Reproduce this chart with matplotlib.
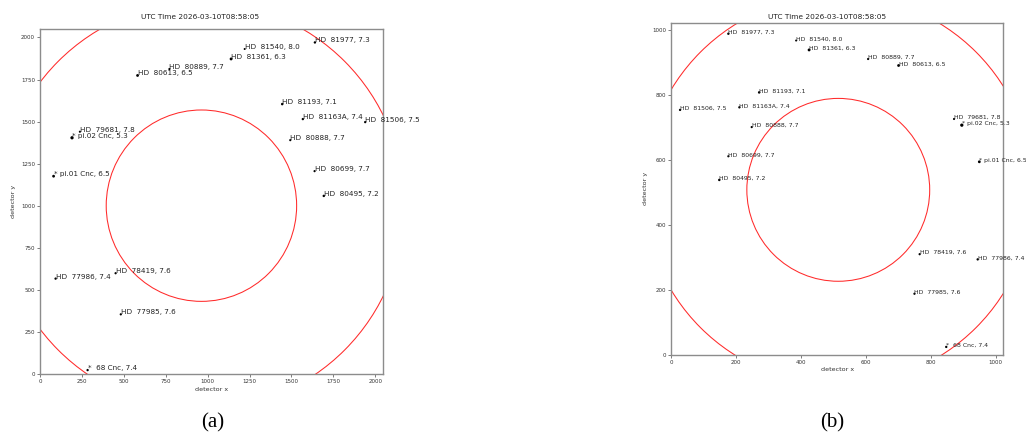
import matplotlib
matplotlib.use("Agg")
import matplotlib.pyplot as plt
from matplotlib.patches import Circle

# star labels and magnitudes (same stars in both frames)
names = ["HD  81977", "HD  81540", "HD  81361", "HD  80889", "HD  80613",
         "HD  81193", "HD  81163A", "HD  81506", "HD  79681", "* pi.02 Cnc",
         "HD  80888", "HD  80699", "* pi.01 Cnc", "HD  80495", "HD  77986",
         "HD  78419", "HD  77985", "*  68 Cnc"]
mags = [7.3, 8.0, 6.3, 7.7, 6.5, 7.1, 7.4, 7.5, 7.8, 5.3,
        7.7, 7.7, 6.5, 7.2, 7.4, 7.6, 7.6, 7.4]

# (a) 2048 x 2048 detector
xa = [1640, 1221, 1140, 772, 582, 1445, 1568, 1940, 238, 191,
      1493, 1638, 81, 1693, 93, 451, 482, 284]
ya = [1970, 1931, 1872, 1812, 1774, 1604, 1515, 1497, 1440, 1404,
      1390, 1206, 1176, 1059, 568, 600, 356, 25]
size_a = 2048
center_a = (963, 1001)
radii_a = [568, 1210]

# (b) 1024 x 1024 detector
xb = [176, 385, 425, 607, 701, 271, 210, 27, 872, 896,
      248, 176, 950, 148, 945, 766, 750, 848]
yb = [990, 969, 940, 912, 892, 809, 763, 755, 727, 708,
      702, 612, 595, 539, 294, 310, 188, 24]
size_b = 1024
center_b = (515, 508.5)
radii_b = [282, 601]

title = "UTC Time 2026-03-10T08:58:05"
W, H = 1026, 437

fig = plt.figure(figsize=(W / 100, H / 100), dpi=100)


def px(l, t, r, b):
    return [l / W, 1 - b / H, (r - l) / W, (b - t) / H]


def panel(rect, xs, ys, size, center, radii, fs_txt, ticks, title_x, title_pad):
    ax = fig.add_axes(rect)
    ax.set_xlim(0, size)
    ax.set_ylim(0, size)
    for r in radii:
        ax.add_patch(Circle(center, r, fill=False, edgecolor="#ff2a2a", lw=0.75))
    s = [1.3 * (9 - m) + 0.8 for m in mags]
    ax.scatter(xs, ys, s=s, c="black", lw=0, zorder=3)
    for x, y, n, m in zip(xs, ys, names, mags):
        ax.text(x, y, f"{n}, {m:.1f}", fontsize=fs_txt, color="#222222")
    ax.set_xticks(ticks)
    ax.set_yticks(ticks)
    ax.tick_params(length=2, width=0.6, pad=1.5, labelsize=4,
                   color="0.4", labelcolor="#333333")
    for sp in ax.spines.values():
        sp.set_color("0.55")
        sp.set_linewidth(1.0)
    ax.set_xlabel("detector x", fontsize=4.6, color="#333333")
    ax.set_ylabel("detector y", fontsize=4.6, color="#333333")
    ax.xaxis.set_label_coords(0.5, -0.037)
    ax.yaxis.set_label_coords(-0.071, 0.5)
    ax.set_title(title, fontsize=5.3, x=title_x, pad=title_pad, color="#222222")
    return ax


panel(px(40, 29.3, 383.3, 374.3), xa, ya, size_a, center_a, radii_a, 5.2,
      [0, 250, 500, 750, 1000, 1250, 1500, 1750, 2000], 0.466, 7.5)
panel(px(671.3, 22.7, 1003.3, 354.7), xb, yb, size_b, center_b, radii_b, 4.4,
      [0, 200, 400, 600, 800, 1000], 0.469, 3.0)

fig.text(212.5 / W, 1 - 423 / H, "(a)", fontsize=15, family="Liberation Serif",
         ha="center", va="center")
fig.text(832.5 / W, 1 - 423 / H, "(b)", fontsize=15, family="Liberation Serif",
         ha="center", va="center")

fig.savefig("out.png", dpi=100)
